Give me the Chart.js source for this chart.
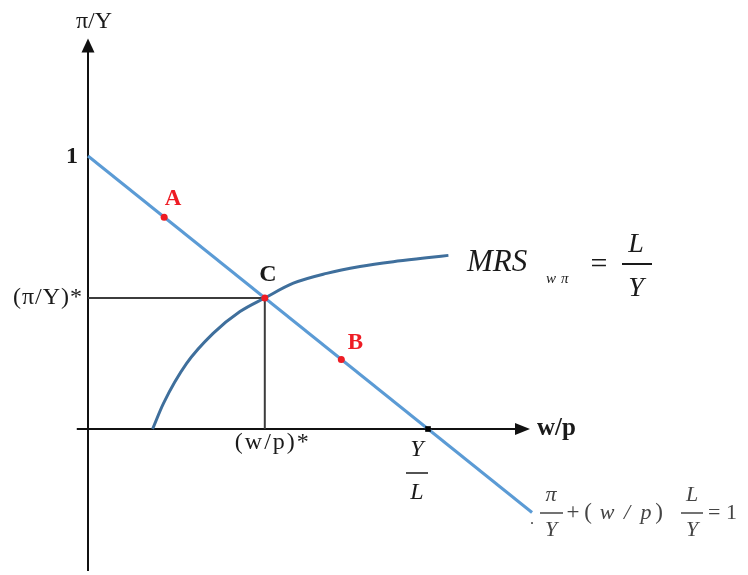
<!DOCTYPE html>
<html>
<head>
<meta charset="utf-8">
<script src="https://cdn.jsdelivr.net/npm/chart.js@4/dist/chart.umd.min.js"></script>
<style>
  html, body { margin: 0; padding: 0; background: #ffffff; }
  canvas { display: block; }
</style>
</head>
<body>
<canvas id="c" width="748" height="575"></canvas>
<script>
// Budget line  π/Y + (w/p)·L/Y = 1  (w/p measured in units of Y/L)
const budgetX = [0, 1.306];
const budgetY = [1, -0.306];

// MRS curve
const mrsX = [0.19, 0.222, 0.29, 0.368, 0.447, 0.52, 0.604, 0.702, 0.800, 0.898, 0.996, 1.06];
const mrsY = [0, 0.094, 0.24, 0.35, 0.43, 0.48, 0.534, 0.570, 0.595, 0.613, 0.627, 0.636];

// Labelled points on the budget line
const pointNames = ['A', 'B', 'C'];
const pointX = [0.224, 0.745, 0.52];
const pointY = [0.776, 0.255, 0.48];

// Equilibrium (w/p)*, (π/Y)* and the w/p intercept Y/L
const eqX = 0.52;
const eqY = 0.48;
const interceptX = 1;

const xy = (xs, ys) => xs.map((x, i) => ({ x, y: ys[i] }));

const SERIF = '"Liberation Serif", "Times New Roman", serif';

const axesPlugin = {
  id: 'axesAndLabels',
  beforeDatasetsDraw(chart) {
    const { ctx, scales: { x, y } } = chart;
    const px = v => x.getPixelForValue(v);
    const py = v => y.getPixelForValue(v);
    ctx.save();
    ctx.strokeStyle = '#111';
    ctx.fillStyle = '#111';
    ctx.lineWidth = 2;
    // horizontal axis
    const x0 = px(0), y0 = py(0);
    ctx.beginPath();
    ctx.moveTo(px(-0.033), y0);
    ctx.lineTo(px(1.30) - 12, y0);
    ctx.stroke();
    ctx.beginPath();
    ctx.moveTo(px(1.30), y0);
    ctx.lineTo(px(1.30) - 15, y0 - 6);
    ctx.lineTo(px(1.30) - 15, y0 + 6);
    ctx.closePath();
    ctx.fill();
    // vertical axis
    ctx.beginPath();
    ctx.moveTo(x0, py(-0.52));
    ctx.lineTo(x0, py(1.43) + 12);
    ctx.stroke();
    ctx.beginPath();
    ctx.moveTo(x0, py(1.43));
    ctx.lineTo(x0 - 6.5, py(1.43) + 14);
    ctx.lineTo(x0 + 6.5, py(1.43) + 14);
    ctx.closePath();
    ctx.fill();
    ctx.restore();
  },
  afterDatasetsDraw(chart) {
    const { ctx, scales: { x, y } } = chart;
    const px = v => x.getPixelForValue(v);
    const py = v => y.getPixelForValue(v);
    ctx.save();
    ctx.textBaseline = 'middle';
    const text = (s, tx, ty, font, align, color, spacing) => {
      ctx.font = font;
      ctx.letterSpacing = spacing || '0px';
      ctx.textAlign = align || 'center';
      ctx.fillStyle = color || '#1a1a1a';
      ctx.fillText(s, tx, ty);
    };
    const bar = (xa, xb, yy, color, w) => {
      ctx.strokeStyle = color || '#1a1a1a';
      ctx.lineWidth = w || 1.5;
      ctx.beginPath();
      ctx.moveTo(xa, yy);
      ctx.lineTo(xb, yy);
      ctx.stroke();
    };
    const x0 = px(0), y0 = py(0);

    // axis titles
    text('π/Y', x0 + 6, 22, '24px ' + SERIF);
    text('w/p', 537, y0, 'bold 25px ' + SERIF, 'left');

    // vertical-axis labels
    text('1', x0 - 10, py(1) + 1, 'bold 24px ' + SERIF, 'right');
    text('(π/Y)*', x0 - 5, py(eqY), '24px ' + SERIF, 'right', '#1a1a1a', '1px');

    // horizontal-axis labels
    text('(w/p)*', px(eqX) + 8, y0 + 14, '24px ' + SERIF, 'center', '#1a1a1a', '2px');
    const ix = px(interceptX) - 11;
    text('Y', ix, y0 + 21, 'italic 24px ' + SERIF);
    bar(ix - 11, ix + 11, y0 + 44);
    text('L', ix, y0 + 64, 'italic 24px ' + SERIF);

    // point names
    const red = '#ee1c24';
    text(pointNames[0], px(pointX[0]) + 9, py(pointY[0]) - 18, 'bold 23px ' + SERIF, 'center', red);
    text(pointNames[1], px(pointX[1]) + 14, py(pointY[1]) - 16, 'bold 23px ' + SERIF, 'center', red);
    text(pointNames[2], px(pointX[2]) + 3, py(pointY[2]) - 23, 'bold 24px ' + SERIF, 'center', '#1a1a1a');

    // MRS label
    text('MRS', 467, 263, 'italic 31px ' + SERIF, 'left');
    text('w', 546, 279, 'italic 15px ' + SERIF, 'left');
    text('π', 561, 279, 'italic 15px ' + SERIF, 'left');
    text('=', 599, 265, '30px ' + SERIF);
    text('L', 636, 245, 'italic 28px ' + SERIF);
    bar(622, 652, 264, '#1a1a1a', 2);
    text('Y', 636, 289, 'italic 28px ' + SERIF);

    // budget line equation
    const g = '#444';
    const f = 'italic 22px ' + SERIF;
    const u = '23px ' + SERIF;
    text('π', 551, 495, f, 'center', g);
    bar(540, 563, 513, g, 1.5);
    text('Y', 551, 530, f, 'center', g);
    text('.', 532, 520, '16px ' + SERIF, 'center', g);
    text('+', 573, 513, u, 'center', g);
    text('(', 588, 513, u, 'center', g);
    text('w', 607, 513, f, 'center', g);
    text('/', 627, 513, f, 'center', g);
    text('p', 646, 513, f, 'center', g);
    text(')', 659, 513, u, 'center', g);
    text('L', 692, 495, f, 'center', g);
    bar(681, 703, 513, g, 1.5);
    text('Y', 692, 530, f, 'center', g);
    text('= 1', 708, 513, '22px ' + SERIF, 'left', g);
    ctx.restore();
  }
};

new Chart(document.getElementById('c'), {
  type: 'scatter',
  data: {
    datasets: [
      {
        label: 'drop lines',
        data: [{ x: 0, y: eqY }, { x: eqX, y: eqY }, { x: eqX, y: 0 }],
        showLine: true,
        borderColor: '#3c3c3c',
        borderWidth: 2,
        pointRadius: 0,
        order: 4
      },
      {
        label: 'MRS',
        data: xy(mrsX, mrsY),
        showLine: true,
        borderColor: '#3f6f9c',
        borderWidth: 3,
        pointRadius: 0,
        cubicInterpolationMode: 'monotone',
        order: 3
      },
      {
        label: 'budget',
        data: xy(budgetX, budgetY),
        showLine: true,
        borderColor: '#5b9bd5',
        borderWidth: 3,
        pointRadius: 0,
        order: 2
      },
      {
        label: 'points',
        data: xy(pointX, pointY),
        pointRadius: 3.5,
        pointBackgroundColor: '#ee1c24',
        pointBorderWidth: 0,
        order: 1
      },
      {
        label: 'intercept',
        data: [{ x: interceptX, y: 0 }],
        pointRadius: 4,
        pointStyle: 'rect',
        pointBackgroundColor: '#000',
        pointBorderWidth: 0,
        order: 1
      }
    ]
  },
  options: {
    responsive: false,
    animation: false,
    layout: { padding: 0, autoPadding: false },
    plugins: { legend: { display: false }, tooltip: { enabled: false } },
    scales: {
      x: { type: 'linear', display: false, min: -88 / 340, max: 660 / 340 },
      y: { type: 'linear', display: false, min: -146 / 273, max: 429 / 273 }
    }
  },
  plugins: [axesPlugin]
});
</script>
</body>
</html>
